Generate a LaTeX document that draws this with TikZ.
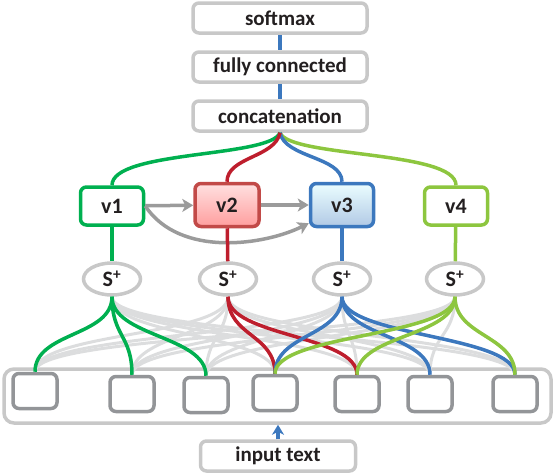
\documentclass[tikz,border=0pt]{standalone}
\usepackage{fontspec}
\setmainfont{Carlito}
\usetikzlibrary{arrows.meta,shapes.geometric}
\definecolor{vgreen}{HTML}{00B050}
\definecolor{vred}{HTML}{BE1E2D}
\definecolor{vredbox}{HTML}{C24A48}
\definecolor{vblue}{HTML}{3C78BE}
\definecolor{vlime}{HTML}{8DC63F}
\definecolor{boxgray}{HTML}{C8C8C8}
\definecolor{tokgray}{HTML}{939598}
\definecolor{arrgray}{HTML}{9B9B9B}
\definecolor{faintgray}{HTML}{DCDDDE}
\definecolor{ink}{HTML}{231F20}
\tikzset{%
  layer/.style={draw=boxgray,line width=3.5pt,rounded corners=6pt,
    minimum width=174pt,minimum height=30pt,inner sep=0pt,text=ink,
    font=\fontsize{21}{21}\selectfont\bfseries},
  view/.style={draw=#1,line width=3.5pt,rounded corners=6pt,fill=white,
    minimum width=63pt,minimum height=38pt,inner sep=0pt,text=ink,
    font=\fontsize{22}{22}\selectfont\bfseries},
  spool/.style={ellipse,draw=boxgray,line width=3.5pt,fill=white,
    minimum width=57pt,minimum height=32pt,inner sep=0pt,text=ink,
    font=\fontsize{22}{22}\selectfont\bfseries},
  token/.style={draw=tokgray,line width=3.5pt,rounded corners=6pt,
    minimum width=44pt,minimum height=35pt,inner sep=0pt},
  link/.style={draw=#1,line width=3.5pt},
  faint/.style={draw=faintgray,line width=3pt},
  flow/.style={draw=arrgray,line width=3.5pt,
    -{Stealth[length=11pt,width=13pt,inset=3pt]}},
}
\begin{document}
\begin{tikzpicture}[x=1pt,y=-1pt]
  \useasboundingbox (0,0) rectangle (554,472);
  % classifier on top
  \node[layer] (softmax) at (280,18) {softmax};
  \node[layer] (fc) at (280,67) {fully connected};
  \node[layer] (concat) at (280,116) {concatenation};
  \draw[link=vblue] (softmax) -- (fc);
  \draw[link=vblue] (fc) -- (concat);
  % the four views
  \node[view=vgreen] (v1) at (112,206) {v1};
  \node[view=vredbox,top color=red!12,bottom color=red!38,
    minimum width=64pt,minimum height=43pt] (v2) at (227,205) {v2};
  \node[view=vblue,top color=blue!8!cyan!8,bottom color=vblue!40,
    minimum width=63pt,minimum height=43pt] (v3) at (342,205) {v3};
  \node[view=vlime] (v4) at (456,206) {v4};
  \draw[link=vgreen] (concat.south) .. controls +(-10,25) and +(0,-35) .. (v1.north);
  \draw[link=vlime] (concat.south) .. controls +(10,25) and +(0,-35) .. (v4.north);
  \draw[link=vblue] (concat.south) .. controls +(5,25) and +(0,-25) .. (v3.north);
  \draw[link=vred] (concat.south) .. controls +(-5,25) and +(0,-25) .. (v2.north);
  \draw[flow] (v1) -- (v2);
  \draw[flow] (v2) -- (v3);
  \draw[flow] (v1.east) .. controls (180,258) and (265,245) .. ([yshift=5pt]v3.south west);
  % pooling
  \foreach \i/\x in {1/112,2/228,3/342,4/455}
    \node[spool] (s\i) at (\x,279) {S\textsuperscript{+}};
  \draw[link=vgreen] (v1) -- (s1);
  \draw[link=vred] (v2) -- (s2);
  \draw[link=vblue] (v3) -- (s3);
  \draw[link=vlime] (v4) -- (s4);
  % input words
  \node[draw=boxgray,line width=3.5pt,rounded corners=10pt,
    minimum width=547pt,minimum height=54pt] (inputs) at (277.5,396) {};
  \foreach \i/\x/\y in {1/35/391,2/132/394,3/206/395,4/275/393,5/357/394,6/430/394,7/515/394}
    \node[token] (in\i) at (\x,\y) {};
  \foreach \i in {1,...,4}
    \foreach \j in {1,...,7}
      \draw[faint] (s\i.south) .. controls +(0,40) and +(0,-40) .. (in\j.north);
  \foreach \j in {1,2,3}
    \draw[link=vgreen] (s1.south) .. controls +(0,40) and +(0,-40) .. (in\j.north);
  \foreach \j in {4,5}
    \draw[link=vred] (s2.south) .. controls +(0,40) and +(0,-40) .. (in\j.north);
  \foreach \j in {4,6,7}
    \draw[link=vblue] (s3.south) .. controls +(0,40) and +(0,-40) .. (in\j.north);
  \foreach \j in {4,5,7}
    \draw[link=vlime] (s4.south) .. controls +(0,40) and +(0,-40) .. (in\j.north);
  % input text
  \node[layer,minimum width=155pt] (text) at (278,456) {input text};
  \draw[draw=vblue,line width=3.5pt,-{Stealth[length=10pt,width=12pt,inset=3pt]}]
    (text.north) -- (text.north |- inputs.south);
\end{tikzpicture}
\end{document}
